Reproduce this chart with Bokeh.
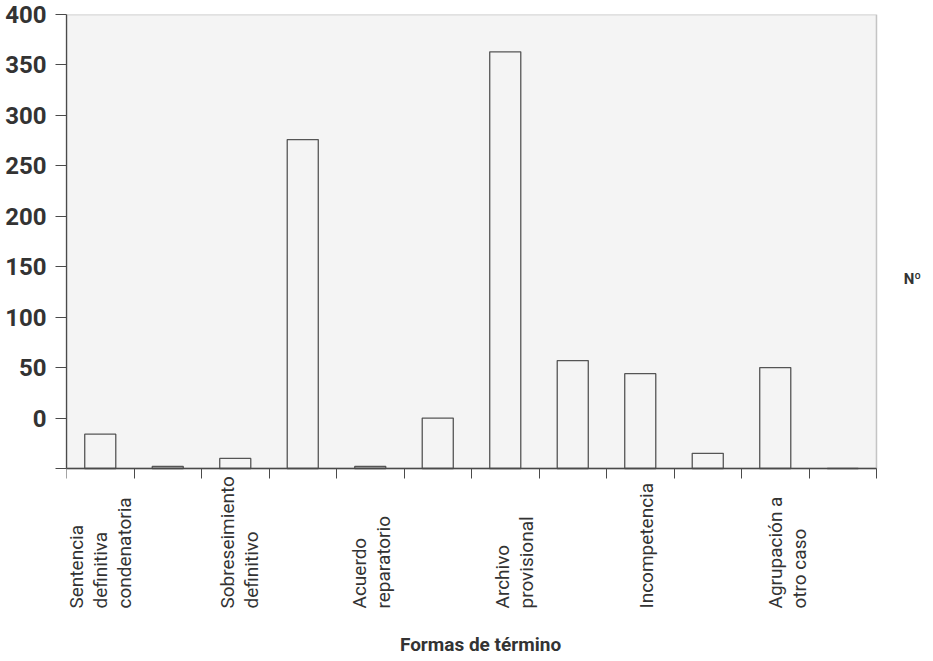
from bokeh.plotting import figure
from bokeh.models import Range1d, FixedTicker, BoxAnnotation, ColumnDataSource
from bokeh.core.properties import value
from bokeh.embed import file_html
from bokeh.resources import INLINE
import math

# ---- data ----
categorias = [
    "Sentencia\ndefinitiva\ncondenatoria", "",
    "Sobreseimiento\ndefinitivo", "",
    "Acuerdo\nreparatorio", "",
    "Archivo\nprovisional", "",
    "Incompetencia", "",
    "Agrupación a\notro caso", "",
]
posiciones = [1, 2, 3, 4, 5, 6, 7, 8, 9, 10, 11, 12]
valores = [-16, -48, -40, 276, -48, 0, 363, 57, 44, -35, 50, -50]
y_ticks = [-50, 0, 50, 100, 150, 200, 250, 300, 350, 400]
y_min, y_max = -50, 400
x_titulo = "Formas de término"
y_titulo = "Nº"
y_titulo_pos = 138

# ---- layout constants (pixels) ----
W, H = 932, 660
LEFT, TOP = 66, 14
BOX_W, BOX_H = 810, 454          # width / height of the boxed plot area
PX_X = BOX_W / len(posiciones)   # px per category
PX_Y = BOX_H / (y_max - y_min)   # px per y unit
x0, x1 = posiciones[0] - 0.5, posiciones[-1] + 0.5
x_end = x1 + (W - LEFT - BOX_W) / PX_X
y_start = y_min - (H - TOP - BOX_H) / PX_Y

FONT = "Roboto"
DARK = "#333333"
AXIS = "#4a4a4a"

p = figure(width=W, height=H, output_backend="svg", toolbar_location=None,
           x_range=Range1d(x0, x_end), y_range=Range1d(y_start, y_max),
           min_border_left=LEFT, min_border_right=0, min_border_top=TOP,
           min_border_bottom=0)
p.background_fill_color = "white"
p.border_fill_color = "white"
p.outline_line_color = None
p.xgrid.visible = False
p.ygrid.visible = False

# boxed plotting area (frame of the original chart)
p.add_layout(BoxAnnotation(left=x0, right=x1, bottom=y_min, top=y_max,
                           fill_color="#f4f4f4", fill_alpha=1.0,
                           line_color=AXIS, line_width=1.5, level="underlay"))

src = ColumnDataSource(dict(x=posiciones, top=valores))
p.vbar(x="x", top="top", bottom=y_min, width=0.46, source=src,
       fill_color=None, line_color="#555555", line_width=1.3)

# y axis
ya = p.yaxis[0]
ya.ticker = FixedTicker(ticks=y_ticks)
ya.bounds = (y_min, y_max)
ya.major_label_overrides = {-50: ""}
ya.major_label_text_font = FONT
ya.major_label_text_font_style = "bold"
ya.major_label_text_font_size = "24px"
ya.major_label_text_color = DARK
ya.major_label_standoff = 9
ya.major_tick_out = 11
ya.major_tick_in = 0
ya.minor_tick_line_color = None
ya.axis_line_color = AXIS
ya.major_tick_line_color = AXIS
ya.axis_line_width = 1.3

# x axis (ticks at category boundaries), drawn on the baseline
x_bounds = [x0 + i for i in range(len(posiciones) + 1)]
xa = p.xaxis[0]
xa.fixed_location = y_min
xa.bounds = (x0, x1)
xa.ticker = FixedTicker(ticks=x_bounds)
xa.major_label_overrides = {t: "" for t in x_bounds}
xa.major_tick_out = 10
xa.major_tick_in = 0
xa.minor_tick_line_color = None
xa.axis_line_color = AXIS
xa.major_tick_line_color = AXIS
xa.axis_line_width = 1.3

# category labels (vertical, start-aligned)
label_dx = [0, 0, 4, 0, 1, 0, 9, 0, 6, 0, 12, 0]
lab = dict(x=[], y=[], text=[], dx=[])
for xi, name, dx in zip(posiciones, categorias, label_dx):
    if name:
        lab["x"].append(xi)
        lab["y"].append(y_min - 140 / PX_Y)
        lab["text"].append(name)
        lab["dx"].append(dx)
p.text(x="x", y="y", text="text", x_offset="dx", source=ColumnDataSource(lab),
       angle=math.pi / 2, text_align="left", text_baseline="middle",
       text_font=value(FONT), text_font_size="19px", text_line_height=1.05,
       text_color=DARK)

# axis titles
p.text(x=[(x0 + x1) / 2], y=[y_min - 176 / PX_Y], text=[x_titulo], x_offset=9,
       text_align="center", text_baseline="middle",
       text_font=value(FONT), text_font_style="bold", text_font_size="19px",
       text_color=DARK)
p.text(x=[x1], y=[y_titulo_pos], text=[y_titulo], x_offset=36,
       text_align="center", text_baseline="middle",
       text_font=value(FONT), text_font_style="bold", text_font_size="15px",
       text_color=DARK)

open("out.html", "w").write(file_html(p, INLINE))
